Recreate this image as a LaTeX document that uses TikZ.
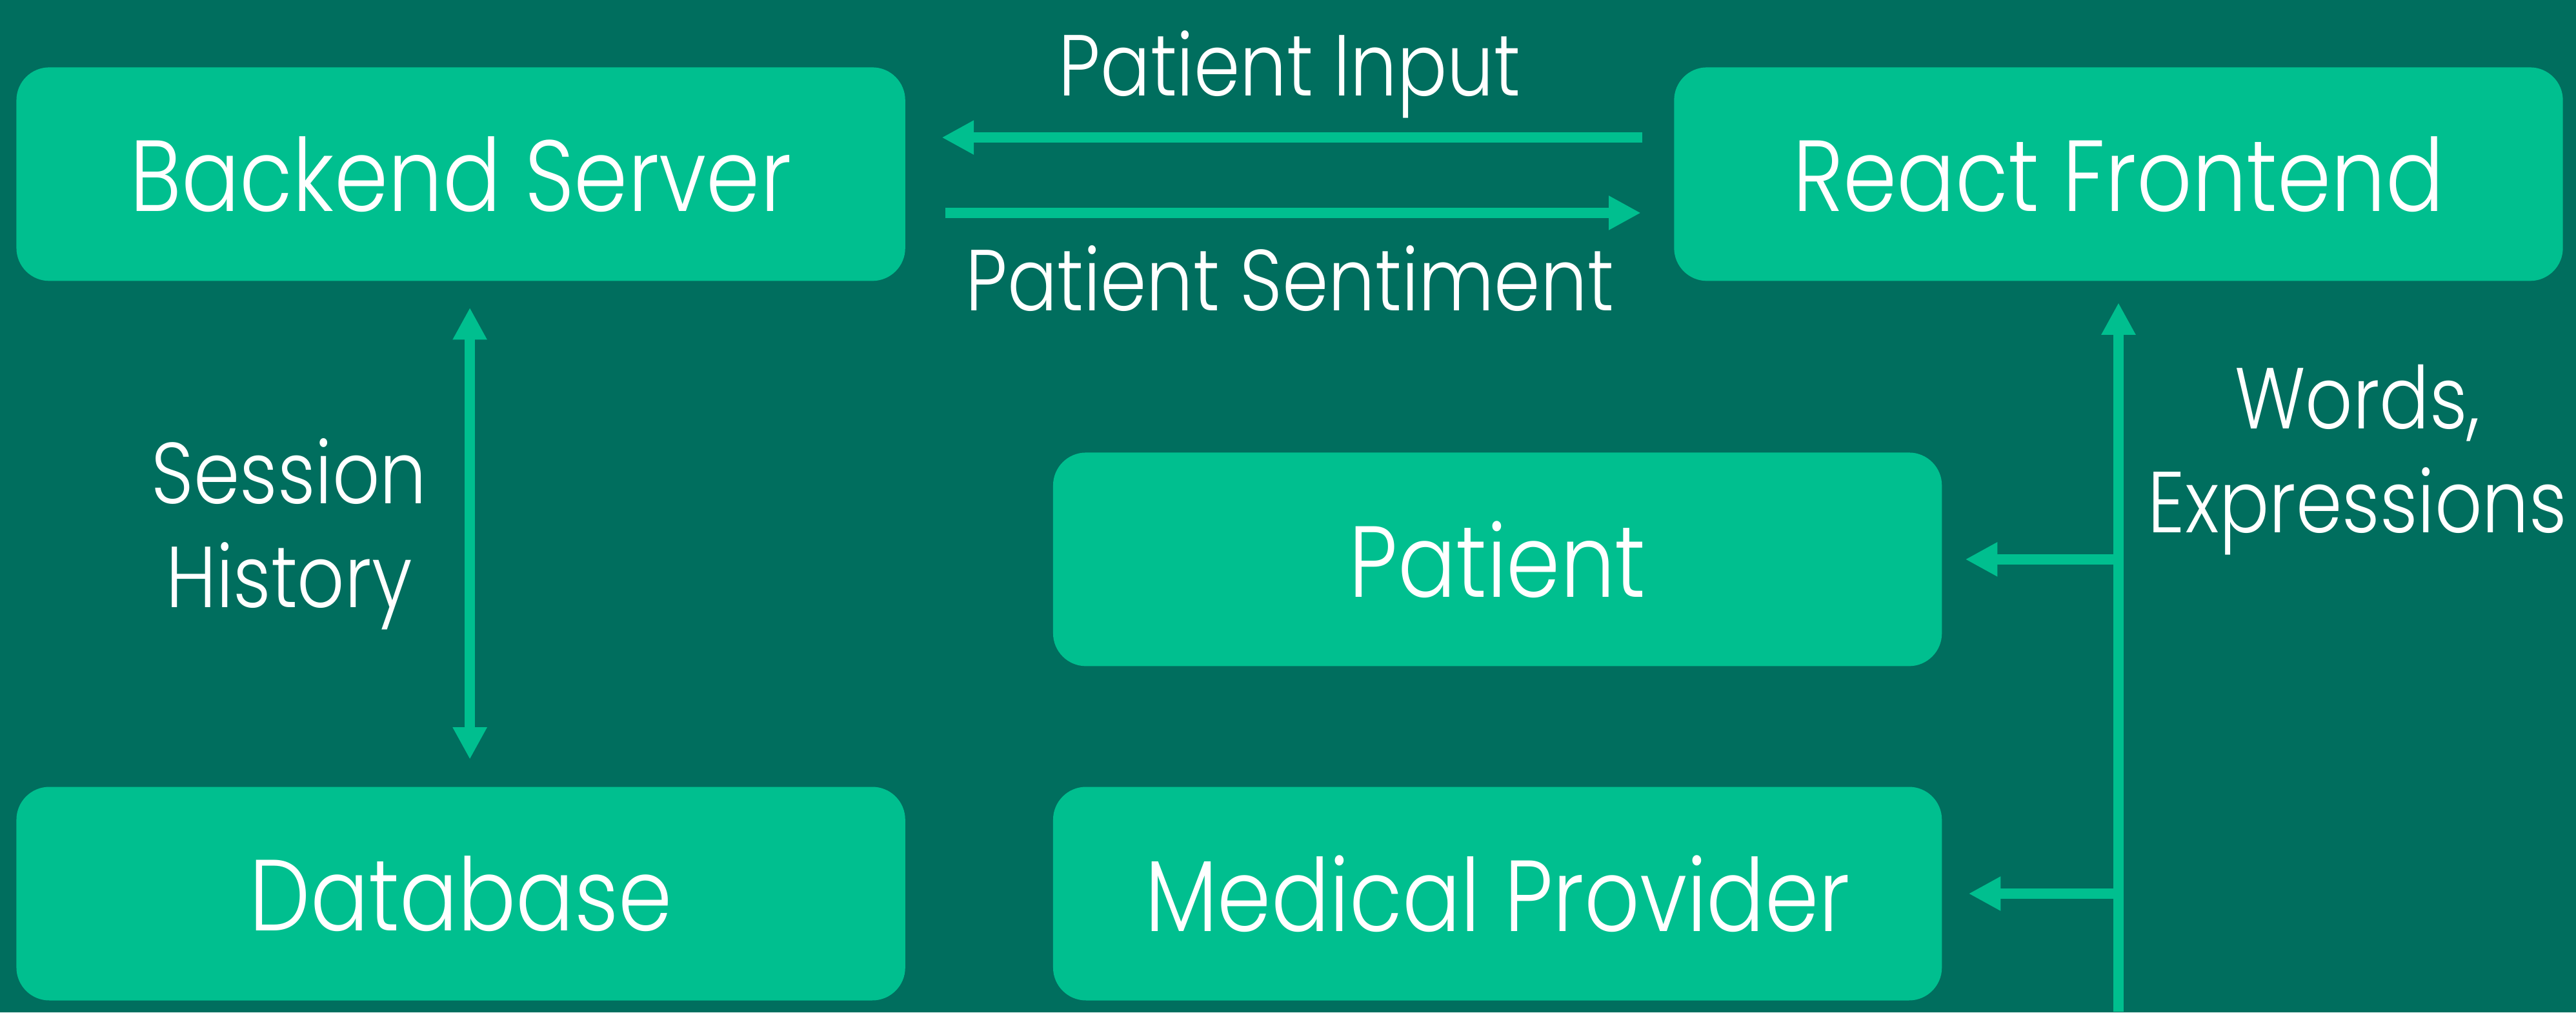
\documentclass[tikz,border=0pt]{standalone}
\usepackage{fontspec}
\setmainfont[FakeStretch=0.855]{Poppins Light}
\usetikzlibrary{positioning, arrows.meta}
\definecolor{sfondo}{RGB}{0,110,94}
\definecolor{verde}{RGB}{0,191,143}

\begin{document}
\begin{tikzpicture}[node distance=2cm, >={Triangle[length=0.195cm, width=0.195cm]}, line width=0.065cm]
        % Stili
        \tikzstyle{block} = [fill=verde, rounded corners=0.2cm, minimum height=1.3cm, minimum width=5.41cm, inner sep=0pt, text=white, font=\fontsize{17.5}{21}\selectfont]
        \tikzstyle{lbl} = [text=white, font=\fontsize{15}{18}\selectfont, align=center]
        \tikzstyle{coord} = [coordinate]
        \tikzstyle{link} = [draw=verde, ->]

        % Sfondo
        \path [use as bounding box, fill=sfondo] (0,0) rectangle (15.68,-6.163);

        % --- Blocchi ---
        \node [block] (backend) at (2.805,-1.06) {Backend Server};
        \node [block, right of=backend, node distance=10.09cm] (frontend) {React Frontend};
        \node [block, below of=backend, node distance=4.38cm] (database) {Database};
        \node [block, right of=database, node distance=6.31cm] (provider) {Medical Provider};
        \node [block, above of=provider, node distance=2.035cm] (patient) {Patient};

        % Ingresso dal basso
        \node [coord, below of=frontend, node distance=5.10cm] (words_in) {};

        % Etichetta ingresso
        \node [lbl, below of=frontend, node distance=1.74cm, xshift=1.455cm] (words_lbl) {Words,\\Expressions};

        % --- Collegamenti ---

        % Frontend -> Backend
        \draw [link, shorten <=0.16cm, shorten >=0.19cm] ([yshift=0.223cm]frontend.west) -- node[lbl, anchor=base, yshift=0.255cm] {Patient Input} ([yshift=0.223cm]backend.east);

        % Backend -> Frontend
        \draw [link, shorten <=0.21cm, shorten >=0.17cm] ([yshift=-0.236cm]backend.east) -- node[lbl, anchor=base, yshift=-0.594cm] {Patient Sentiment} ([yshift=-0.236cm]frontend.west);

        % Backend <-> Database
        \draw [link, <->, shorten <=0.13cm, shorten >=0.135cm] ([xshift=0.055cm]backend.south) -- node[lbl, xshift=-1.10cm] {Session\\History} ([xshift=0.055cm]database.north);

        % Ingresso -> Frontend
        \draw [link, shorten >=0.10cm] (words_in) -- (frontend);

        % Diramazioni verso Patient e Medical Provider
        \draw [link, shorten >=0.11cm] (frontend |- patient) -- (patient);
        \draw [link, shorten >=0.13cm] (frontend |- provider) -- (provider);

    \end{tikzpicture}
\end{document}
